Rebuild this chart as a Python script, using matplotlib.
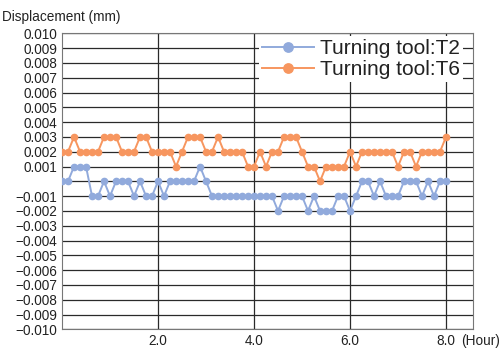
import numpy as np
import matplotlib.pyplot as plt

plt.rcParams['font.family'] = ['Liberation Sans', 'DejaVu Sans']

# one reading every 7.5 minutes, 0 to 8 hours
hours = np.arange(65) / 8.0

t2 = [0, 0, 1, 1, 1, -1, -1, 0, -1, 0, 0, 0, -1, 0, -1, -1,
      0, -1, 0, 0, 0, 0, 0, 1, 0,
      -1, -1, -1, -1, -1, -1, -1, -1, -1, -1, -1,
      -2, -1, -1, -1, -1, -2, -1, -2, -2, -2, -1, -1, -2, -1,
      0, 0, -1, 0, -1, -1, -1, 0, 0, 0, -1, 0, -1, 0, 0]
t6 = [2, 2, 3, 2, 2, 2, 2, 3, 3, 3, 2, 2, 2, 3, 3, 2,
      2, 2, 2, 1, 2, 3, 3, 3, 2, 2, 3, 2, 2, 2, 2, 1,
      1, 2, 1, 2, 2, 3, 3, 3, 2, 1, 1, 0, 1, 1, 1, 1,
      2, 1, 2, 2, 2, 2, 2, 2, 1, 2, 2, 1, 2, 2, 2, 2, 3]
t2 = np.array(t2) * 0.001
t6 = np.array(t6) * 0.001

yticks = np.arange(-10, 11) * 0.001
xticks = [2, 4, 6, 8]

fig = plt.figure(figsize=(5.03, 3.48), dpi=100)
ax = fig.add_axes([0.1233, 0.0537, 0.8171, 0.8506])

blue = '#91aadc'
orange = '#f7965f'
ax.plot(hours, t2, color=blue, lw=1.4, marker='o', ms=4.5, label='Turning tool:T2', zorder=3)
ax.plot(hours, t6, color=orange, lw=1.4, marker='o', ms=4.5, label='Turning tool:T6', zorder=3)

ax.set_xlim(0, 8.5625)
ax.set_ylim(-0.010, 0.010)
ax.set_yticks(yticks)
ax.set_yticklabels(['' if abs(v) < 1e-9 else ('%.3f' % v).replace('-', '\u2212') for v in yticks])
ax.set_xticks(xticks)
ax.set_xticklabels(['%.1f' % v for v in xticks])
ax.tick_params(length=0, labelsize=9.8, colors='#222222')
ax.tick_params(axis='y', pad=3.2)
ax.tick_params(axis='x', pad=3.2)
ax.grid(True, color='#2a2a2a', lw=0.9)
ax.set_axisbelow(True)
for s in ax.spines.values():
    s.set_color('#777777')

ax.annotate('(Hour)', xy=(8, 0), xycoords=('data', 'axes fraction'),
            xytext=(11, -3.2), textcoords='offset points', va='top', ha='left',
            fontsize=9.8, color='#222222', annotation_clip=False)
fig.text(0.004, 0.951, 'Displacement (mm)', fontsize=9.8, color='#222222', va='center')

leg = ax.legend(loc='upper right', bbox_to_anchor=(0.975, 0.99), fontsize=15,
                frameon=True, fancybox=False, edgecolor='none', framealpha=1,
                handlelength=2.5, handletextpad=0.25, labelspacing=0.08,
                borderpad=0.15, borderaxespad=0, markerscale=1.5)
for t in leg.get_texts():
    t.set_color('#222222')

fig.savefig('out.png', dpi=100)
